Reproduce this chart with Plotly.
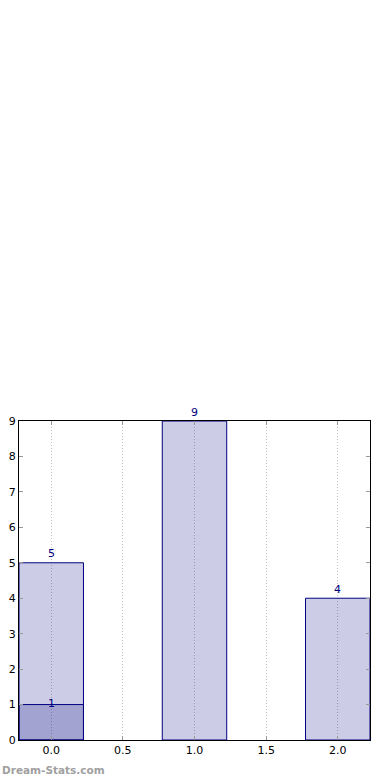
import plotly.graph_objects as go

categories = [0, 1, 2]
totals = [5, 9, 4]
sub_x = [0]
sub_values = [1]

navy = "#000080"
fig = go.Figure()
fig.add_trace(go.Bar(x=categories, y=totals, width=0.45,
                     marker=dict(color="rgba(0,0,128,0.2)", line=dict(color=navy, width=1)),
                     showlegend=False, hoverinfo="skip"))
fig.add_trace(go.Bar(x=sub_x, y=sub_values, width=0.45,
                     marker=dict(color="rgba(0,0,128,0.2)", line=dict(color=navy, width=1)),
                     showlegend=False, hoverinfo="skip"))

annotations = []
for xv, yv in zip(categories, totals):
    annotations.append(dict(x=xv, y=yv, text=str(yv), showarrow=False, yshift=9,
                            font=dict(color=navy, size=11, family="DejaVu Sans")))
for xv, yv in zip(sub_x, sub_values):
    annotations.append(dict(x=xv, y=yv, text=str(yv), showarrow=False, yshift=1,
                            font=dict(color=navy, size=11, family="DejaVu Sans")))
annotations.append(dict(xref="paper", yref="paper", x=-0.054, y=-0.094, xanchor="left", yanchor="middle",
                        text="<b>Dream-Stats.com</b>", showarrow=False,
                        font=dict(color="#a0a0a0", size=10.5, family="DejaVu Sans")))

fig.update_layout(
    width=390, height=780, barmode="overlay",
    margin=dict(l=19, r=20, t=421, b=40),
    plot_bgcolor="white", paper_bgcolor="white",
    font=dict(family="DejaVu Sans", size=11, color="black"),
    annotations=annotations,
    xaxis=dict(range=[-0.225, 2.225], tickvals=[0, 0.5, 1, 1.5, 2],
               ticktext=["0.0", "0.5", "1.0", "1.5", "2.0"], automargin=False,
               showgrid=True, gridcolor="#c0c0c0", griddash="1px,2px", gridwidth=1.2,
               showline=True, linecolor="black", mirror="ticks", ticks="inside",
               ticklen=4, tickcolor="#999999", zeroline=False),
    yaxis=dict(range=[0, 9], dtick=1, showgrid=False, automargin=False,
               showline=True, linecolor="black", mirror="ticks", ticks="inside",
               ticklen=4, tickcolor="#999999", zeroline=False),
)
fig.write_html("out.html", post_script="document.body.style.margin='0';",
               config={"displayModeBar": False})
